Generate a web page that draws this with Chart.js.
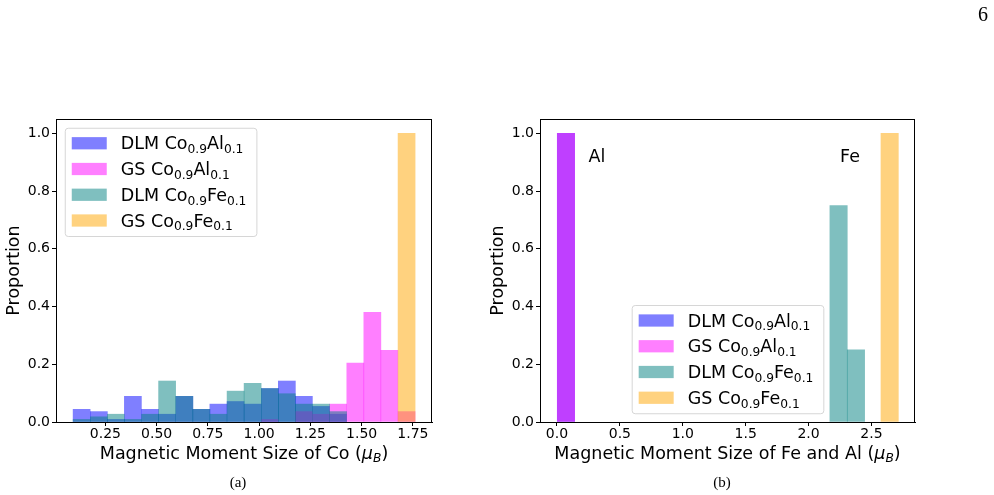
<!DOCTYPE html>
<html>
<head>
<meta charset="utf-8">
<script src="https://cdn.jsdelivr.net/npm/chart.js@4.4.0/dist/chart.umd.min.js"></script>
<style>
  html, body { margin: 0; padding: 0; background: #fff; }
  #wrap { position: relative; width: 994px; height: 495px; overflow: hidden; }
  #chartA { position: absolute; left: 0; top: 0; }
  #chartB { position: absolute; left: 480px; top: 0; }
  .cap { position: absolute; font-family: "Liberation Serif", serif; color: #000; transform: translate(-50%, -50%); }
</style>
</head>
<body>
<div id="wrap">
  <canvas id="chartA" width="480" height="495"></canvas>
  <canvas id="chartB" width="514" height="495"></canvas>
  <div class="cap" style="left:238px; top:482px; font-size:15px">(a)</div>
  <div class="cap" style="left:722px; top:482px; font-size:15px">(b)</div>
  <div class="cap" style="left:983px; top:14px; font-size:20px">6</div>
</div>
<script>
// series names, "_{..}" = subscript, "*..*" = italic
const seriesLabels = ['DLM Co_{0.9}Al_{0.1}', 'GS Co_{0.9}Al_{0.1}', 'DLM Co_{0.9}Fe_{0.1}', 'GS Co_{0.9}Fe_{0.1}'];
const seriesColors = ['rgba(0,0,255,0.5)', 'rgba(255,0,255,0.5)', 'rgba(0,128,128,0.5)', 'rgba(255,165,0,0.5)'];

// (a) Co moment histogram: bin centres and proportions
const coBins = [0.134, 0.218, 0.301, 0.384, 0.468, 0.551, 0.635, 0.718, 0.801, 0.885,
                0.968, 1.052, 1.135, 1.218, 1.302, 1.385, 1.469, 1.552, 1.635, 1.719];
const coDlmAl = [0.044, 0.036, 0.009, 0.089, 0.044, 0.027, 0.089, 0.044, 0.062, 0.071,
                 0.062, 0.116, 0.142, 0.089, 0.054, 0.027, 0, 0, 0, 0];
const coGsAl  = [0, 0, 0, 0, 0, 0, 0, 0, 0, 0,
                 0, 0.009, 0, 0.036, 0.027, 0.062, 0.204, 0.380, 0.248, 0.036];
const coDlmFe = [0.009, 0.018, 0.027, 0.009, 0.027, 0.142, 0.089, 0.044, 0.027, 0.107,
                 0.134, 0.116, 0.098, 0.062, 0.062, 0.036, 0, 0, 0, 0];
const coGsFe  = [0, 0, 0, 0, 0, 0, 0, 0, 0, 0,
                 0, 0, 0, 0, 0, 0, 0, 0, 0, 1.0];

// (b) Fe and Al moment histogram
const feAlBins  = [0.0715, 2.2385, 2.3765, 2.6445];
const feAlDlmAl = [1.0, 0, 0, 0];
const feAlGsAl  = [1.0, 0, 0, 0];
const feAlDlmFe = [0, 0.75, 0.25, 0];
const feAlGsFe  = [0, 0, 0, 1.0];

const xTicksA = [0.25, 0.5, 0.75, 1.0, 1.25, 1.5, 1.75];
const xTicksB = [0.0, 0.5, 1.0, 1.5, 2.0, 2.5];
const yTicks = [0.0, 0.2, 0.4, 0.6, 0.8, 1.0];

const xTitleA = 'Magnetic Moment Size of Co (*μ*_{*B*})';
const xTitleB = 'Magnetic Moment Size of Fe and Al (*μ*_{*B*})';
const noteText = ['Al', 'Fe'];
const noteX = [0.25, 2.25];
const noteY = [0.9, 0.9];

const FONT = '"DejaVu Sans", sans-serif';
const LABEL_SIZE = 17.5;
const TICK_SIZE = 14;

// split a label into plain / subscript / italic pieces
function richParts(str) {
  const parts = [];
  const re = /_\{([^}]*)\}|\*([^*]*)\*/g;
  let last = 0, m;
  while ((m = re.exec(str))) {
    if (m.index > last) parts.push({ t: str.slice(last, m.index) });
    if (m[1] !== undefined) parts.push({ t: m[1].replace(/\*/g, ''), sub: true, it: m[1].startsWith('*') });
    else parts.push({ t: m[2], it: true });
    last = re.lastIndex;
  }
  if (last < str.length) parts.push({ t: str.slice(last) });
  return parts;
}
function richFont(p, size) {
  return (p.it ? 'italic ' : '') + (p.sub ? size * 0.7 : size) + 'px ' + FONT;
}
function richWidth(ctx, parts, size) {
  let w = 0;
  parts.forEach(p => { ctx.font = richFont(p, size); w += ctx.measureText(p.t).width; });
  return w;
}
function drawRich(ctx, parts, x, y, size) {
  ctx.textAlign = 'left';
  ctx.textBaseline = 'alphabetic';
  ctx.fillStyle = '#000';
  parts.forEach(p => {
    ctx.font = richFont(p, size);
    ctx.fillText(p.t, x, y + (p.sub ? size * 0.22 : 0));
    x += ctx.measureText(p.t).width;
  });
}

// spines, x title, notes and the legend, drawn over the bars
function overlay(xTitle, legendAt, notes) {
  return {
    id: 'overlay',
    afterDatasetsDraw(chart) {
      const ctx = chart.ctx;
      const a = chart.chartArea;
      ctx.save();
      ctx.strokeStyle = '#000';
      ctx.lineWidth = 1;
      ctx.strokeRect(Math.round(a.left) + 0.5, Math.round(a.top) + 0.5,
                     Math.round(a.width) - 1, Math.round(a.height));

      const tp = richParts(xTitle);
      const tw = richWidth(ctx, tp, LABEL_SIZE);
      drawRich(ctx, tp, (a.left + a.right) / 2 - tw / 2, a.bottom + 36.5, LABEL_SIZE);

      if (notes) {
        notes.text.forEach((t, i) => {
          ctx.font = LABEL_SIZE + 'px ' + FONT;
          ctx.fillStyle = '#000';
          ctx.textAlign = 'left';
          ctx.textBaseline = 'alphabetic';
          ctx.fillText(t, chart.scales.x.getPixelForValue(notes.x[i]), chart.scales.y.getPixelForValue(notes.y[i]));
        });
      }

      // legend box, matplotlib-like spacing
      const fs = LABEL_SIZE;
      const pad = 0.4 * fs, handleW = 2 * fs, handleH = 0.7 * fs, gap = 0.8 * fs;
      const rowH = 17, rowGap = 0.5 * fs, axPad = 0.5 * fs;
      const rows = seriesLabels.map(richParts);
      const textW = Math.max(...rows.map(r => richWidth(ctx, r, fs)));
      const w = pad + handleW + gap + textW + pad + 3;
      const h = 2 * pad + rows.length * rowH + (rows.length - 1) * rowGap;
      let x0, y0;
      if (legendAt === 'upper left') { x0 = a.left + axPad; y0 = a.top + axPad; }
      else { x0 = (a.left + a.right) / 2 - w / 2; y0 = a.bottom - axPad - h; }
      ctx.beginPath();
      ctx.roundRect(x0 + 0.5, y0 + 0.5, w, h, 3);
      ctx.fillStyle = 'rgba(255,255,255,0.8)';
      ctx.fill();
      ctx.strokeStyle = '#d6d6d6';
      ctx.lineWidth = 1;
      ctx.stroke();
      rows.forEach((r, i) => {
        const cy = y0 + pad + rowH / 2 + i * (rowH + rowGap);
        ctx.fillStyle = seriesColors[i];
        ctx.fillRect(x0 + pad, cy - handleH / 2, handleW, handleH);
        drawRich(ctx, r, x0 + pad + handleW + gap, cy + 6, fs);
      });
      ctx.restore();
    }
  };
}

function makeDatasets(bins, seriesValues) {
  return seriesValues.map((vals, i) => ({
    label: seriesLabels[i],
    data: bins.map((x, j) => ({ x: x, y: vals[j] })).filter(p => p.y > 0),
    backgroundColor: seriesColors[i],
    borderWidth: 0,
    grouped: false,
    barPercentage: 1,
    categoryPercentage: 1,
    order: seriesValues.length - 1 - i
  }));
}

function axisStyle() {
  return {
    grid: { drawOnChartArea: false, drawTicks: true, tickLength: 4, color: '#000', lineWidth: 1, offset: false },
    border: { display: true, color: '#000', width: 1 }
  };
}

function makeChart(id, bins, seriesValues, xr, xTicks, xDigits, yWidth, yTitlePad, xTitle, legendAt, notes) {
  return new Chart(document.getElementById(id), {
    type: 'bar',
    data: { datasets: makeDatasets(bins, seriesValues) },
    options: {
      responsive: false,
      animation: false,
      layout: { padding: { top: 119, right: xr.padRight, bottom: 31, left: 0 } },
      plugins: { legend: { display: false }, tooltip: { enabled: false } },
      scales: {
        x: {
          type: 'linear',
          min: xr.min,
          max: xr.max,
          offset: false,
          afterBuildTicks: ax => { ax.ticks = xTicks.map(v => ({ value: v })); },
          afterFit: ax => { ax.height = 42; },
          ticks: {
            callback: v => v.toFixed(xDigits),
            font: { family: FONT, size: TICK_SIZE },
            color: '#000',
            padding: 0,
            maxRotation: 0,
            autoSkip: false
          },
          ...axisStyle()
        },
        y: {
          min: 0,
          max: 1.05,
          afterBuildTicks: ax => { ax.ticks = yTicks.map(v => ({ value: v })); },
          afterFit: ax => { ax.width = yWidth; },
          ticks: {
            callback: v => v.toFixed(1),
            font: { family: FONT, size: TICK_SIZE },
            color: '#000',
            padding: 2
          },
          title: {
            display: true,
            text: 'Proportion',
            font: { family: FONT, size: LABEL_SIZE },
            color: '#000',
            padding: { top: yTitlePad, bottom: 0 }
          },
          ...axisStyle()
        }
      }
    },
    plugins: [overlay(xTitle, legendAt, notes)]
  });
}

makeChart('chartA', coBins, [coDlmAl, coGsAl, coDlmFe, coGsFe],
  { min: 0.009, max: 1.843, padRight: 48 }, xTicksA, 2, 56, 4, xTitleA, 'upper left', null);

makeChart('chartB', feAlBins, [feAlDlmAl, feAlGsAl, feAlDlmFe, feAlGsFe],
  { min: -0.135, max: 2.846, padRight: 79 }, xTicksB, 1, 60, 7.5, xTitleB, 'lower center',
  { text: noteText, x: noteX, y: noteY });
</script>
</body>
</html>
